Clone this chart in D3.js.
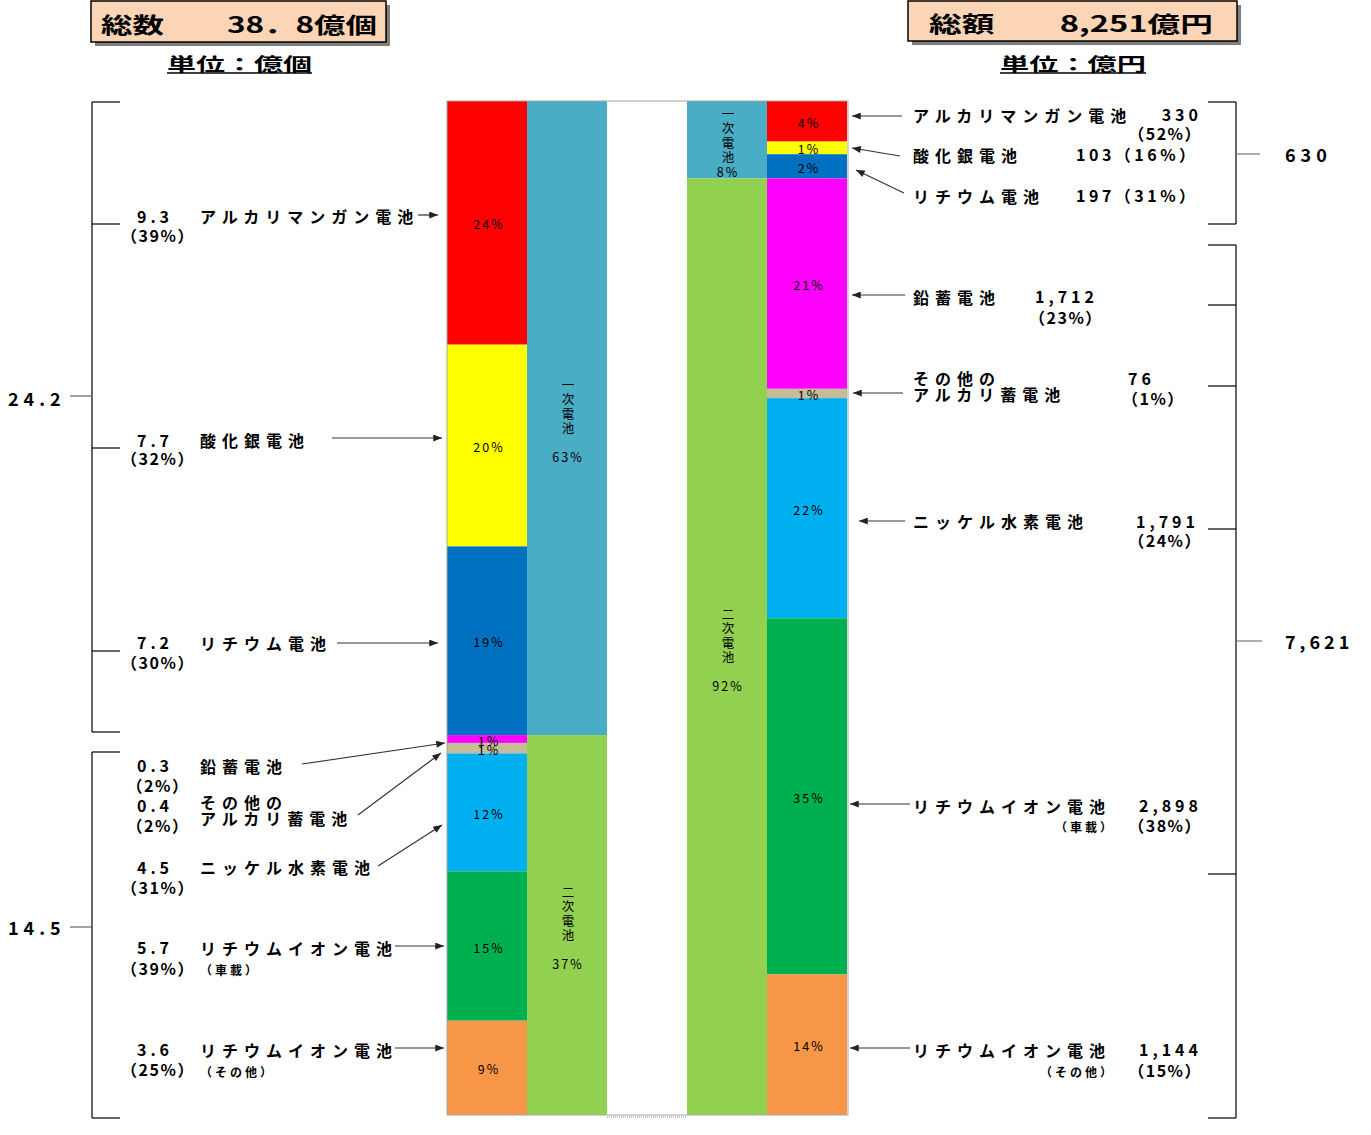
<!DOCTYPE html>
<html><head><meta charset="utf-8">
<script src="https://cdn.jsdelivr.net/npm/d3@7"></script>
<style>
body{margin:0;background:#fff;}
svg{display:block;}
text{font-family:"Noto Sans CJK JP","Noto Sans",sans-serif;fill:#000;}
</style></head><body>
<svg id="c" width="1371" height="1135"></svg>
<script>
// ---------------- DATA ----------------
const categories = ["アルカリマンガン電池","酸化銀電池","リチウム電池","鉛蓄電池","その他のアルカリ蓄電池","ニッケル水素電池","リチウムイオン電池（車載）","リチウムイオン電池（その他）"];
const categoryLines = [["アルカリマンガン電池"],["酸化銀電池"],["リチウム電池"],["鉛蓄電池"],["その他の","アルカリ蓄電池"],["ニッケル水素電池"],["リチウムイオン電池"],["リチウムイオン電池"]];
const categorySub = ["","","","","","","（車載）","（その他）"];
const quantity = [9.3,7.7,7.2,0.3,0.4,4.5,5.7,3.6];          // 億個
const quantityShare = [24,20,19,1,1,12,15,9];                 // % of total
const quantityGroupShare = [39,32,30,2,2,31,39,25];           // % within group
const amount = [330,103,197,1712,76,1791,2898,1144];          // 億円
const amountShare = [4,1,2,21,1,22,35,14];
const amountGroupShare = [52,16,31,23,1,24,38,15];
const groups = ["一次電池","二次電池"];
const groupQuantity = [24.2,14.5];
const groupQuantityShare = [63,37];
const groupAmount = [630,7621];
const groupAmountShare = [8,92];
const titleQuantity = "総数　　38．8億個";
const titleAmount = "総額　　8,251億円";
const unitQuantity = "単位：億個";
const unitAmount = "単位：億円";
const colors = ["#FF0000","#FFFF00","#0070C0","#FF00FF","#C4BD97","#00B0F0","#00B050","#F79646"];
const groupColors = ["#4BACC6","#92D050"];

// ---------------- LAYOUT ----------------
const plotTop = 101, plotBottom = 1115;
const leftNumY = [216,440,642,765,805,867,947,1049];
const leftPctY = [235,458,662,785,825,887,968,1069];
const leftNameY = [216,440,643,766,802,867,948,1050];
const leftSubY = [0,0,0,0,0,0,969,1071];
const leftArrows = [[418,215,438,215],[332,438,442,438],[337,643,438,643],[302,764,445,743],[358,815,441,753],[378,866,442,825],[395,946,444,946],[395,1048,444,1048]];
const rightNameY = [115,155,196,297,378,521,806,1050];
const rightArrows = [[902,116,852,116],[900,156,852,148],[904,193,856,170],[905,295,852,295],[903,393,853,393],[905,521,859,521],[910,804,850,804],[910,1048,850,1048]];
const rightVal = [
 {vx:1202,vy:114,va:"end",px:1202,py:133,pa:"end"},
 {vx:1076,vy:154,va:"start",inline:true},
 {vx:1076,vy:195,va:"start",inline:true},
 {vx:1035,vy:296,va:"start",px:1029,py:317,pa:"start"},
 {vx:1128,vy:378,va:"start",px:1122,py:398,pa:"start"},
 {vx:1199,vy:521,va:"end",px:1202,py:540,pa:"end"},
 {vx:1202,vy:805,va:"end",px:1202,py:825,pa:"end",sx:1115,sy:826},
 {vx:1202,vy:1049,va:"end",px:1202,py:1070,pa:"end",sx:1115,sy:1071}
];

const svg = d3.select("#c");
const defs = svg.append("defs");
defs.append("marker").attr("id","arr").attr("viewBox","0 0 10 8").attr("refX",10).attr("refY",4)
  .attr("markerWidth",10).attr("markerHeight",7).attr("markerUnits","userSpaceOnUse").attr("orient","auto")
  .append("path").attr("d","M0,0L10,4L0,8Z").attr("fill","#222");

const x = d3.scaleBand().domain(["qd","qg","gap","ag","ad"]).range([447,847]);
const yQ = d3.scaleLinear().domain([0,d3.sum(quantity)]).range([plotTop,plotBottom]);
const yA = d3.scaleLinear().domain([0,d3.sum(amount)]).range([plotTop,plotBottom]);
const stack = vals => { let a=0; return vals.map(v=>{const s=a; a+=v; return [s,a];}); };

function drawColumn(key, vals, y, cols, shares){
  const st = stack(vals);
  const g = svg.append("g");
  g.selectAll("rect").data(vals).join("rect")
    .attr("x",x(key)).attr("width",x.bandwidth())
    .attr("y",(d,i)=>y(st[i][0])).attr("height",(d,i)=>y(st[i][1])-y(st[i][0]))
    .attr("fill",(d,i)=>cols[i]);
  if(shares){
    g.selectAll("text").data(vals).join("text")
      .attr("x",x(key)+x.bandwidth()/2+2).attr("y",(d,i)=>(y(st[i][0])+y(st[i][1]))/2+1)
      .attr("text-anchor","middle").attr("dominant-baseline","central")
      .attr("font-size",12.5).attr("letter-spacing",2)
      .text((d,i)=>shares[i]+"%");
  }
  return st;
}
drawColumn("qd", quantity, yQ, colors, quantityShare);
const gsQ = drawColumn("qg", groupQuantity, yQ, groupColors, null);
const gsA = drawColumn("ag", groupAmount, yA, groupColors, null);
drawColumn("ad", amount, yA, colors, amountShare);

function groupLabels(key, st, y, shares){
  st.forEach((s,i)=>{
    const y0=y(s[0]), y1=y(s[1]);
    const lines = groups[i].split("");
    if(y1-y0>150) lines.push("");
    lines.push(shares[i]+"%");
    const step=14.4, cy=(y0+y1)/2+2;
    const cx = x(key)+x.bandwidth()/2+1;
    const t = svg.append("text").attr("text-anchor","middle").attr("dominant-baseline","central");
    lines.forEach((s2,j)=>{
      t.append("tspan").attr("x",cx).attr("y",cy+(j-(lines.length-1)/2)*step)
        .attr("font-size",j<4?12.5:12.5).attr("letter-spacing",j<4?0:2).text(s2===""?"\u00a0":s2);
    });
  });
}
groupLabels("qg", gsQ, yQ, groupQuantityShare);
groupLabels("ag", gsA, yA, groupAmountShare);

// plot border
svg.append("rect").attr("x",447).attr("y",plotTop).attr("width",401).attr("height",plotBottom-plotTop)
  .attr("fill","none").attr("stroke","#A6A6A6").attr("stroke-width",1);
svg.append("line").attr("x1",x("gap")).attr("x2",x("gap")+x.bandwidth()).attr("y1",plotBottom+2).attr("y2",plotBottom+2)
  .attr("stroke","#888").attr("stroke-dasharray","1,1");

// titles
function titleBox(bx,by,bw,bh,tx,tw,text){
  svg.append("rect").attr("x",bx+4).attr("y",by+4).attr("width",bw).attr("height",bh).attr("fill","#7F7F7F");
  svg.append("rect").attr("x",bx).attr("y",by).attr("width",bw).attr("height",bh).attr("fill","#FBD5B5").attr("stroke","#000").attr("stroke-width",1.5);
  svg.append("text").attr("x",tx).attr("y",by+bh/2+1).attr("dominant-baseline","central")
    .attr("font-size",22).attr("font-weight","bold").attr("textLength",tw).attr("lengthAdjust","spacingAndGlyphs").text(text);
}
titleBox(91,1,295,41,101,276,titleQuantity);
titleBox(908,1,329,40,929,284,titleAmount);
function unit(xs,w,text){
  svg.append("text").attr("x",xs).attr("y",63).attr("dominant-baseline","central").attr("font-size",18)
    .attr("font-weight","bold").attr("textLength",w).attr("lengthAdjust","spacingAndGlyphs").text(text);
  svg.append("line").attr("x1",xs).attr("x2",xs+w).attr("y1",73).attr("y2",73).attr("stroke","#000").attr("stroke-width",1.5);
}
unit(167,145,unitQuantity);
unit(1000,146,unitAmount);

const lbl = (xp,yp,t,opts={}) => svg.append("text").attr("x",xp).attr("y",yp)
  .attr("dominant-baseline","central").attr("font-weight","bold")
  .attr("font-size",opts.fs||16).attr("letter-spacing",opts.ls!=null?opts.ls:6)
  .attr("text-anchor",opts.anchor||"start").text(t);
const multi = (xp,yp,lines,lh=16) => {
  const t = svg.append("text").attr("dominant-baseline","central").attr("font-weight","bold")
    .attr("font-size",16).attr("letter-spacing",6);
  lines.forEach((s,j)=>t.append("tspan").attr("x",xp).attr("y",yp+j*lh).text(s));
};
const line = (x1,y1,x2,y2,c="#000",arrow=false) => {
  const l=svg.append("line").attr("x1",x1).attr("y1",y1).attr("x2",x2).attr("y2",y2).attr("stroke",c).attr("stroke-width",1.2);
  if(arrow) l.attr("marker-end","url(#arr)");
};

// left labels
const fmt1 = d3.format(".1f");
quantity.forEach((v,i)=>{
  lbl(155,leftNumY[i],fmt1(v),{anchor:"middle",ls:4});
  lbl(158,leftPctY[i],"（"+quantityGroupShare[i]+"%）",{anchor:"middle",ls:1.5});
  multi(200,leftNameY[i],categoryLines[i]);
  if(categorySub[i]) lbl(200,leftSubY[i],categorySub[i],{fs:12,ls:3});
  const a=leftArrows[i]; line(a[0],a[1],a[2],a[3],"#333",true);
});

// right labels
const fmtC = d3.format(",");
amount.forEach((v,i)=>{
  multi(913,rightNameY[i],categoryLines[i]);
  const r=rightVal[i];
  if(r.inline){
    lbl(r.vx,r.vy,fmtC(v)+"（"+amountGroupShare[i]+"%）",{ls:3.5});
  } else {
    lbl(r.vx,r.vy,fmtC(v),{anchor:r.va,ls:4});
    lbl(r.px,r.py,"（"+amountGroupShare[i]+"%）",{anchor:r.pa,ls:1.5});
  }
  if(r.sx) lbl(r.sx,r.sy,categorySub[i],{fs:12,ls:3,anchor:"end"});
  const a=rightArrows[i]; line(a[0],a[1],a[2],a[3],"#333",true);
});

// left brackets & totals
line(92,102,92,732); [102,224,448,651,732].forEach(t=>line(92,t,120,t));
line(92,752,92,1118); [752,1118].forEach(t=>line(92,t,120,t));
line(70,396,92,396,"#666"); line(70,927,92,927,"#666");
lbl(8,398,fmt1(groupQuantity[0]),{fs:18,ls:5});
lbl(8,927,fmt1(groupQuantity[1]),{fs:18,ls:5});
// right brackets & totals
line(1236,102,1236,224); [102,224].forEach(t=>line(1208,t,1236,t));
line(1236,245,1236,1118); [245,305,386,529,874,1118].forEach(t=>line(1208,t,1236,t));
line(1236,154,1260,154,"#777"); line(1236,641,1262,641,"#777");
lbl(1285,154,fmtC(groupAmount[0]),{fs:18,ls:5});
lbl(1285,641,fmtC(groupAmount[1]),{fs:18,ls:4});
</script></body></html>
